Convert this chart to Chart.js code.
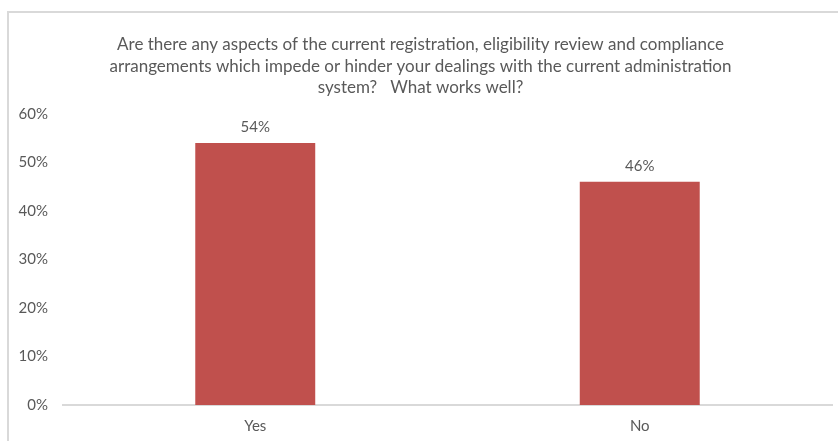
<!DOCTYPE html>
<html lang="en">
<head>
  <meta charset="UTF-8"/>
  <title>Registration, eligibility review and compliance</title>
  <script src="https://cdn.jsdelivr.net/npm/chart.js"></script>
  <style>
    html, body {
      margin: 0;
      padding: 0;
      background: #fff;
      overflow: hidden;
    }
    .chart-box {
      position: absolute;
      left: 7px;
      top: 11px;
      width: 831px;
      height: 430px;
      border-left: 2px solid #d9d9d9;
      border-top: 2px solid #d9d9d9;
    }
  </style>
</head>
<body>
<div class="chart-box">
  <canvas id="answerChart" width="829" height="428"></canvas>
</div>

<script>
  const answers = ['Yes', 'No'];
  const shares = [54, 46];
  const yTicks = [0, 10, 20, 30, 40, 50, 60];
  const titleLines = [
    'Are there any aspects of the current registration, eligibility review and compliance',
    'arrangements which impede or hinder your dealings with the current administration',
    'system?   What works well?'
  ];

  const textGrey = '#595959';
  const fontFamily = 'Lato, "Open Sans", sans-serif';

  // writes the percentage above each bar
  const valueLabels = {
    id: 'valueLabels',
    afterDatasetsDraw(chart) {
      const ctx = chart.ctx;
      const meta = chart.getDatasetMeta(0);
      ctx.save();
      ctx.fillStyle = textGrey;
      ctx.font = '15px ' + fontFamily;
      ctx.textAlign = 'center';
      ctx.textBaseline = 'middle';
      meta.data.forEach((bar, i) => {
        ctx.fillText(shares[i] + '%', bar.x, bar.y - 16);
      });
      ctx.restore();
    }
  };

  new Chart(document.getElementById('answerChart'), {
    type: 'bar',
    data: {
      labels: answers,
      datasets: [{
        data: shares,
        backgroundColor: '#C0504D',
        categoryPercentage: 1,
        barPercentage: 0.312
      }]
    },
    options: {
      responsive: false,
      animation: false,
      layout: { padding: { right: 6, bottom: 0 } },
      plugins: {
        legend: { display: false },
        tooltip: { enabled: false },
        title: {
          display: true,
          text: titleLines,
          color: textGrey,
          font: { family: fontFamily, size: 17, weight: 'normal', lineHeight: 1.27 },
          padding: { top: 21, bottom: 15 }
        }
      },
      scales: {
        x: {
          afterFit(scale) { scale.height = 36; },
          grid: { display: false, drawTicks: false },
          border: { display: true, color: '#d9d9d9', width: 2 },
          ticks: {
            color: textGrey,
            font: { family: fontFamily, size: 15 },
            padding: 12
          }
        },
        y: {
          min: 0,
          max: 60,
          afterFit(scale) { scale.width = 54; },
          afterBuildTicks(scale) {
            scale.ticks = yTicks.map(v => ({ value: v }));
          },
          grid: { display: false, drawTicks: false },
          border: { display: false },
          ticks: {
            color: textGrey,
            font: { family: fontFamily, size: 15 },
            padding: 15,
            callback: v => v + '%'
          }
        }
      }
    },
    plugins: [valueLabels]
  });
</script>
</body>
</html>
